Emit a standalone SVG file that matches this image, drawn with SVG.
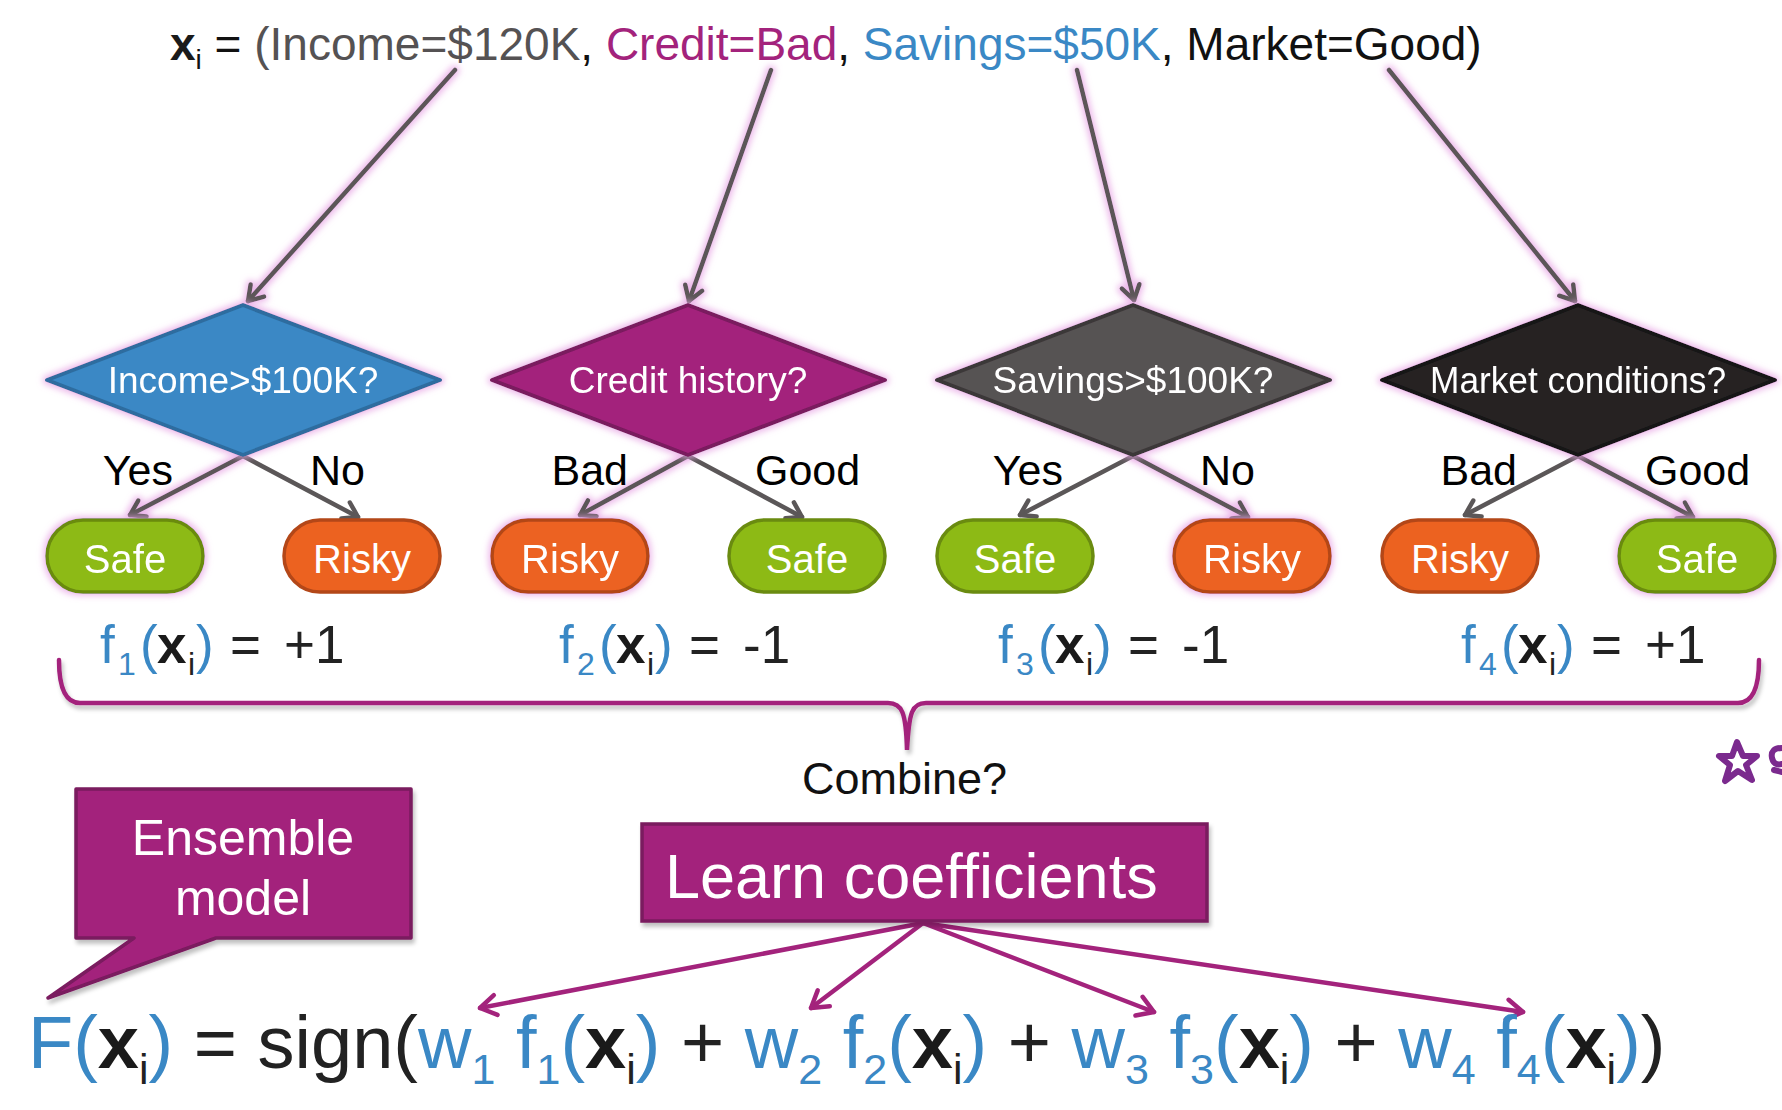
<svg xmlns="http://www.w3.org/2000/svg" width="1782" height="1110" viewBox="0 0 1782 1110">
<defs>
<style>
text{font-family:"Liberation Sans",Arial,Helvetica,sans-serif;}
.top{font-size:46px;}
.dt{font-size:37px;fill:#ffffff;text-anchor:middle;}
.lt{font-size:40px;fill:#ffffff;text-anchor:middle;}
.br{font-size:43px;fill:#000000;}
.fl{font-size:53px;fill:#222222;}
.fm{font-size:74px;fill:#222222;}
.blue{fill:#3a88c5;}
.mag{fill:#a3237c;}
.gry{fill:#555253;}
.blk{fill:#111111;}
.bx{font-weight:bold;fill:#1a1a1a;}
.gl{stroke:#5b5758;stroke-width:4.5;fill:none;stroke-linecap:round;}
.ml{stroke:#a3237c;stroke-width:4.5;fill:none;stroke-linecap:round;}
.safe{fill:#8dba15;stroke:#6a8b10;stroke-width:3.5;}
.risky{fill:#ec6220;stroke:#b34718;stroke-width:3.5;}
</style>
<filter id="glow" filterUnits="userSpaceOnUse" x="0" y="0" width="1782" height="1110">
<feMorphology in="SourceAlpha" operator="dilate" radius="2" result="d"/>
<feGaussianBlur in="d" stdDeviation="3" result="b"/>
<feFlood flood-color="#e7a3e4" flood-opacity="0.75"/>
<feComposite in2="b" operator="in" result="g"/>
<feMerge><feMergeNode in="g"/><feMergeNode in="SourceGraphic"/></feMerge>
</filter>
<filter id="shadow" filterUnits="userSpaceOnUse" x="0" y="0" width="1782" height="1110">
<feGaussianBlur in="SourceAlpha" stdDeviation="2" result="b"/>
<feOffset in="b" dx="2" dy="4" result="o"/>
<feFlood flood-color="#000" flood-opacity="0.25"/>
<feComposite in2="o" operator="in" result="s"/>
<feMerge><feMergeNode in="s"/><feMergeNode in="SourceGraphic"/></feMerge>
</filter>
<marker id="ag" markerUnits="userSpaceOnUse" viewBox="0 0 24 24" markerWidth="24" markerHeight="24" refX="19" refY="12" orient="auto">
<path d="M5,3 L19,12 L5,21" fill="none" stroke="#5b5758" stroke-width="4.5" stroke-linecap="round" stroke-linejoin="round"/>
</marker>
<marker id="am" markerUnits="userSpaceOnUse" viewBox="0 0 26 26" markerWidth="26" markerHeight="26" refX="21" refY="13" orient="auto">
<path d="M5,3 L21,13 L5,23" fill="none" stroke="#a3237c" stroke-width="4.5" stroke-linecap="round" stroke-linejoin="round"/>
</marker>
</defs>

<rect width="1782" height="1110" fill="#ffffff"/>

<!-- input vector -->
<g id="input">
<text class="top" x="170" y="60"><tspan class="bx">x</tspan><tspan dy="9" font-size="28" class="blk">i</tspan><tspan dy="-9" class="blk"> = </tspan><tspan class="gry">(Income=$120K</tspan><tspan class="blk">, </tspan><tspan class="mag">Credit=Bad</tspan><tspan class="blk">, </tspan><tspan class="blue">Savings=$50K</tspan><tspan class="blk">, Market=Good)</tspan></text>
</g>

<!-- connectors -->
<g id="connectors">
<g filter="url(#glow)">
<line class="gl" x1="455" y1="70" x2="248" y2="301" marker-end="url(#ag)"/>
<line class="gl" x1="771" y1="70" x2="689" y2="301" marker-end="url(#ag)"/>
<line class="gl" x1="1077" y1="70" x2="1134" y2="300" marker-end="url(#ag)"/>
<line class="gl" x1="1389" y1="70" x2="1575" y2="301" marker-end="url(#ag)"/>
<line class="gl" x1="243" y1="456" x2="130" y2="515" marker-end="url(#ag)"/>
<line class="gl" x1="688" y1="456" x2="580" y2="515" marker-end="url(#ag)"/>
<line class="gl" x1="1133" y1="456" x2="1248" y2="517" marker-end="url(#ag)"/>
<line class="gl" x1="1578" y1="456" x2="1693" y2="517" marker-end="url(#ag)"/>
</g>
<line class="gl" x1="243" y1="456" x2="358" y2="517" marker-end="url(#ag)"/>
<line class="gl" x1="688" y1="456" x2="802" y2="517" marker-end="url(#ag)"/>
<line class="gl" x1="1133" y1="456" x2="1020" y2="515" marker-end="url(#ag)"/>
<line class="gl" x1="1578" y1="456" x2="1465" y2="515" marker-end="url(#ag)"/>
<!-- brace -->
<path filter="url(#shadow)" class="ml" d="M59,660 Q59,703 80,703 L888,703 C902,703 906,712 907,750 C909,712 912,703 926,703 L1738,703 Q1759,703 1759,660"/>
<!-- coefficient arrows -->
<line class="ml" x1="923" y1="923" x2="480" y2="1008" marker-end="url(#am)"/>
<line class="ml" x1="923" y1="923" x2="811" y2="1008" marker-end="url(#am)"/>
<line class="ml" x1="923" y1="923" x2="1154" y2="1012" marker-end="url(#am)"/>
<line class="ml" x1="923" y1="923" x2="1523" y2="1012" marker-end="url(#am)"/>
</g>

<!-- decision nodes -->
<g id="d1" filter="url(#glow)"><polygon points="243,305 440,380 243,455 47,380" fill="#3a88c5" stroke="#2d6c9f" stroke-width="4" stroke-linejoin="round"/><text class="dt" x="243" y="393">Income&gt;$100K?</text></g>
<g id="d2" filter="url(#glow)"><polygon points="688,305 885,380 688,455 492,380" fill="#a3237c" stroke="#7a1a5e" stroke-width="4" stroke-linejoin="round"/><text class="dt" x="688" y="393">Credit history?</text></g>
<g id="d3" filter="url(#glow)"><polygon points="1133,305 1330,380 1133,455 937,380" fill="#575253" stroke="#3b3738" stroke-width="4" stroke-linejoin="round"/><text class="dt" x="1133" y="393">Savings&gt;$100K?</text></g>
<g id="d4" filter="url(#glow)"><polygon points="1578,305 1775,380 1578,455 1382,380" fill="#262324" stroke="#151314" stroke-width="4" stroke-linejoin="round"/><text class="dt" x="1578" y="393" textLength="296" lengthAdjust="spacingAndGlyphs">Market conditions?</text></g>

<!-- branch labels -->
<g id="branch-labels">
<text class="br" x="173" y="485" text-anchor="end">Yes</text>
<text class="br" x="310" y="485">No</text>
<text class="br" x="628" y="485" text-anchor="end">Bad</text>
<text class="br" x="755" y="485">Good</text>
<text class="br" x="1063" y="485" text-anchor="end">Yes</text>
<text class="br" x="1200" y="485">No</text>
<text class="br" x="1517" y="485" text-anchor="end">Bad</text>
<text class="br" x="1645" y="485">Good</text>
</g>

<!-- leaves -->
<g id="l1a" filter="url(#glow)"><rect class="safe" x="47" y="520" width="156" height="72" rx="36"/><text class="lt" x="125" y="573">Safe</text></g>
<g id="l1b"><rect class="risky" x="284" y="520" width="156" height="72" rx="36"/><text class="lt" x="362" y="573">Risky</text></g>
<g id="l2a" filter="url(#glow)"><rect class="risky" x="492" y="520" width="156" height="72" rx="36"/><text class="lt" x="570" y="573">Risky</text></g>
<g id="l2b"><rect class="safe" x="729" y="520" width="156" height="72" rx="36"/><text class="lt" x="807" y="573">Safe</text></g>
<g id="l3a"><rect class="safe" x="937" y="520" width="156" height="72" rx="36"/><text class="lt" x="1015" y="573">Safe</text></g>
<g id="l3b" filter="url(#glow)"><rect class="risky" x="1174" y="520" width="156" height="72" rx="36"/><text class="lt" x="1252" y="573">Risky</text></g>
<g id="l4a"><rect class="risky" x="1382" y="520" width="156" height="72" rx="36"/><text class="lt" x="1460" y="573">Risky</text></g>
<g id="l4b" filter="url(#glow)"><rect class="safe" x="1619" y="520" width="156" height="72" rx="36"/><text class="lt" x="1697" y="573">Safe</text></g>

<!-- tree outputs -->
<g id="f1" transform="translate(100,663)"><text class="fl"><tspan x="0" class="blue">f</tspan><tspan x="18" dy="12" font-size="32" class="blue">1</tspan><tspan x="40" dy="-12" class="blue">(</tspan><tspan x="57" class="bx">x</tspan><tspan x="88" dy="12" font-size="32">i</tspan><tspan x="96" dy="-12" class="blue">)</tspan><tspan x="130">=</tspan><tspan x="184">+1</tspan></text></g>
<g id="f2" transform="translate(559,663)"><text class="fl"><tspan x="0" class="blue">f</tspan><tspan x="18" dy="12" font-size="32" class="blue">2</tspan><tspan x="40" dy="-12" class="blue">(</tspan><tspan x="57" class="bx">x</tspan><tspan x="88" dy="12" font-size="32">i</tspan><tspan x="96" dy="-12" class="blue">)</tspan><tspan x="130">=</tspan><tspan x="184">-1</tspan></text></g>
<g id="f3" transform="translate(998,663)"><text class="fl"><tspan x="0" class="blue">f</tspan><tspan x="18" dy="12" font-size="32" class="blue">3</tspan><tspan x="40" dy="-12" class="blue">(</tspan><tspan x="57" class="bx">x</tspan><tspan x="88" dy="12" font-size="32">i</tspan><tspan x="96" dy="-12" class="blue">)</tspan><tspan x="130">=</tspan><tspan x="184">-1</tspan></text></g>
<g id="f4" transform="translate(1461,663)"><text class="fl"><tspan x="0" class="blue">f</tspan><tspan x="18" dy="12" font-size="32" class="blue">4</tspan><tspan x="40" dy="-12" class="blue">(</tspan><tspan x="57" class="bx">x</tspan><tspan x="88" dy="12" font-size="32">i</tspan><tspan x="96" dy="-12" class="blue">)</tspan><tspan x="130">=</tspan><tspan x="184">+1</tspan></text></g>

<g id="combine"><text x="802" y="794" font-size="45" fill="#111">Combine?</text></g>

<g id="ensemble" filter="url(#shadow)">
<path d="M76,789 L411,789 L411,938 L216,938 L48,998 L134,938 L76,938 Z" fill="#a3237c" stroke="#7a1a5e" stroke-width="3.5" stroke-linejoin="round"/>
<text x="243" y="855" font-size="50" fill="#fff" text-anchor="middle">Ensemble</text>
<text x="243" y="915" font-size="50" fill="#fff" text-anchor="middle">model</text>
</g>

<g id="learn" filter="url(#shadow)">
<rect x="642" y="824" width="565" height="97" fill="#a3237c" stroke="#7a1a5e" stroke-width="3.5"/>
<text x="665" y="898" font-size="63" fill="#fff">Learn coefficients</text>
</g>

<!-- formula -->
<g id="formula">
<text class="fm" x="28" y="1068"><tspan class="blue">F(</tspan><tspan class="bx">x</tspan><tspan dy="16" font-size="43">i</tspan><tspan dy="-16" class="blue">)</tspan> = sign(<tspan class="blue">w</tspan><tspan dy="16" font-size="43" class="blue">1</tspan><tspan dy="-16" class="blue"> f</tspan><tspan dy="16" font-size="43" class="blue">1</tspan><tspan dy="-16" class="blue">(</tspan><tspan class="bx">x</tspan><tspan dy="16" font-size="43">i</tspan><tspan dy="-16" class="blue">)</tspan> + <tspan class="blue">w</tspan><tspan dy="16" font-size="43" class="blue">2</tspan><tspan dy="-16" class="blue"> f</tspan><tspan dy="16" font-size="43" class="blue">2</tspan><tspan dy="-16" class="blue">(</tspan><tspan class="bx">x</tspan><tspan dy="16" font-size="43">i</tspan><tspan dy="-16" class="blue">)</tspan> + <tspan class="blue">w</tspan><tspan dy="16" font-size="43" class="blue">3</tspan><tspan dy="-16" class="blue"> f</tspan><tspan dy="16" font-size="43" class="blue">3</tspan><tspan dy="-16" class="blue">(</tspan><tspan class="bx">x</tspan><tspan dy="16" font-size="43">i</tspan><tspan dy="-16" class="blue">)</tspan> + <tspan class="blue">w</tspan><tspan dy="16" font-size="43" class="blue">4</tspan><tspan dy="-16" class="blue"> f</tspan><tspan dy="16" font-size="43" class="blue">4</tspan><tspan dy="-16" class="blue">(</tspan><tspan class="bx">x</tspan><tspan dy="16" font-size="43">i</tspan><tspan dy="-16" class="blue">)</tspan>)</text>
</g>

<!-- handwritten mark -->
<g id="annotation" fill="none" stroke="#7b2a8e" stroke-width="6" stroke-linecap="round" stroke-linejoin="round">
<path d="M1737,742 L1743,756 L1757,756 L1746,765 L1752,780 L1738,771 L1725,781 L1730,765 L1719,756 L1732,756 Z"/>
<path d="M1782,748 Q1770,748 1772,758 Q1774,766 1782,764 M1774,770 L1782,772"/>
</g>
</svg>
